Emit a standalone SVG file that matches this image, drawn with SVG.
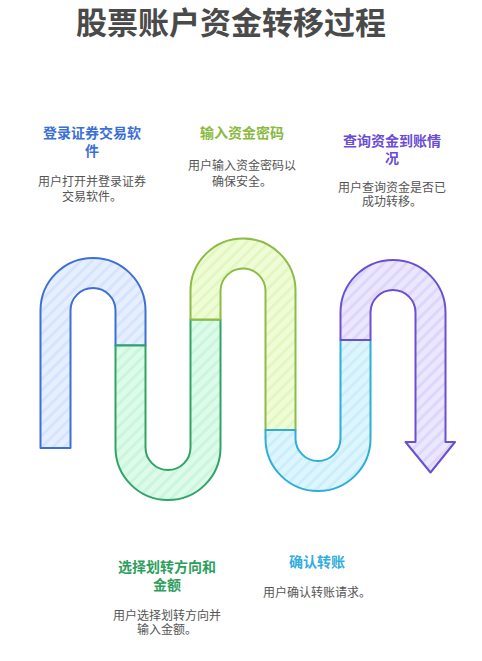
<svg xmlns="http://www.w3.org/2000/svg" width="482" height="661" viewBox="0 0 482 661">
<defs>
<style>
.title{font-family:"Noto Sans CJK SC","Noto Sans",sans-serif;font-weight:700;font-size:31px;fill:#4a4a4a;text-anchor:middle}
.h{font-family:"Noto Sans CJK SC","Noto Sans",sans-serif;font-weight:700;font-size:14px;text-anchor:middle}
.d{font-family:"Noto Sans CJK SC","Noto Sans",sans-serif;font-size:12px;fill:#555555;text-anchor:middle}
.seg{stroke-width:2;stroke-linejoin:round}
</style>
<pattern id="pb" width="8" height="8" patternUnits="userSpaceOnUse" patternTransform="rotate(45)"><rect width="8" height="8" fill="#e6efff"/><rect width="3" height="8" fill="#d6e4ff"/></pattern>
<pattern id="pg" width="8" height="8" patternUnits="userSpaceOnUse" patternTransform="rotate(45)"><rect width="8" height="8" fill="#dcfbe8"/><rect width="3" height="8" fill="#cbf5dc"/></pattern>
<pattern id="py" width="8" height="8" patternUnits="userSpaceOnUse" patternTransform="rotate(45)"><rect width="8" height="8" fill="#effdd6"/><rect width="3" height="8" fill="#e3f7c3"/></pattern>
<pattern id="pc" width="8" height="8" patternUnits="userSpaceOnUse" patternTransform="rotate(45)"><rect width="8" height="8" fill="#ddf6fe"/><rect width="3" height="8" fill="#cbeefa"/></pattern>
<pattern id="pp" width="8" height="8" patternUnits="userSpaceOnUse" patternTransform="rotate(45)"><rect width="8" height="8" fill="#ebe7ff"/><rect width="3" height="8" fill="#ddd6fd"/></pattern>
</defs>
<rect width="482" height="661" fill="#ffffff"/>
<text class="title" x="231" y="34">股票账户资金转移过程</text>
<g id="connectors">
<path id="seg1" class="seg" fill="url(#pb)" stroke="#3d6fd6" d="M40.5 448 V310.5 A52.5 52.5 0 0 1 145.5 310.5 V345.5 H115.5 V310.5 A22.5 22.5 0 0 0 70.5 310.5 V448 Z"/>
<path id="seg2" class="seg" fill="url(#pg)" stroke="#30a366" d="M115.5 345.5 V447.5 A52.5 52.5 0 0 0 220.5 447.5 V319.5 H190.5 V447.5 A22.5 22.5 0 0 1 145.5 447.5 V345.5 Z"/>
<path id="seg3" class="seg" fill="url(#py)" stroke="#8dbb45" d="M190.5 319.5 V291 A52.5 52.5 0 0 1 295.5 291 V430 H265.5 V291 A22.5 22.5 0 0 0 220.5 291 V319.5 Z"/>
<path id="seg4" class="seg" fill="url(#pc)" stroke="#2eaed6" d="M265.5 430 V438.5 A52.5 52.5 0 0 0 370.5 438.5 V340 H340.5 V438.5 A22.5 22.5 0 0 1 295.5 438.5 V430 Z"/>
<path id="seg5" class="seg" fill="url(#pp)" stroke="#6a4fd3" d="M340.5 340 V312.5 A52.5 52.5 0 0 1 445.5 312.5 V442 H455 L430.5 472.5 L405.5 442 H415.5 V312.5 A22.5 22.5 0 0 0 370.5 312.5 V340 Z"/>
</g>
<g id="step1">
<text class="h" x="92" y="138" fill="#3a6fd8">登录证券交易软</text>
<text class="h" x="92" y="156" fill="#3a6fd8">件</text>
<text class="d" x="92" y="186">用户打开并登录证券</text>
<text class="d" x="92" y="201">交易软件。</text>
</g>
<g id="step2">
<text class="h" x="242" y="138" fill="#8ab93f">输入资金密码</text>
<text class="d" x="242" y="170">用户输入资金密码以</text>
<text class="d" x="242" y="186">确保安全。</text>
</g>
<g id="step3">
<text class="h" x="392" y="146" fill="#6a4cd6">查询资金到账情</text>
<text class="h" x="392" y="163" fill="#6a4cd6">况</text>
<text class="d" x="392" y="192">用户查询资金是否已</text>
<text class="d" x="392" y="206">成功转移。</text>
</g>
<g id="step4">
<text class="h" x="167" y="572" fill="#2e9e5e">选择划转方向和</text>
<text class="h" x="167" y="590" fill="#2e9e5e">金额</text>
<text class="d" x="167" y="620">用户选择划转方向并</text>
<text class="d" x="167" y="634">输入金额。</text>
</g>
<g id="step5">
<text class="h" x="317" y="567" fill="#32ade0">确认转账</text>
<text class="d" x="317" y="597">用户确认转账请求。</text>
</g>
</svg>
